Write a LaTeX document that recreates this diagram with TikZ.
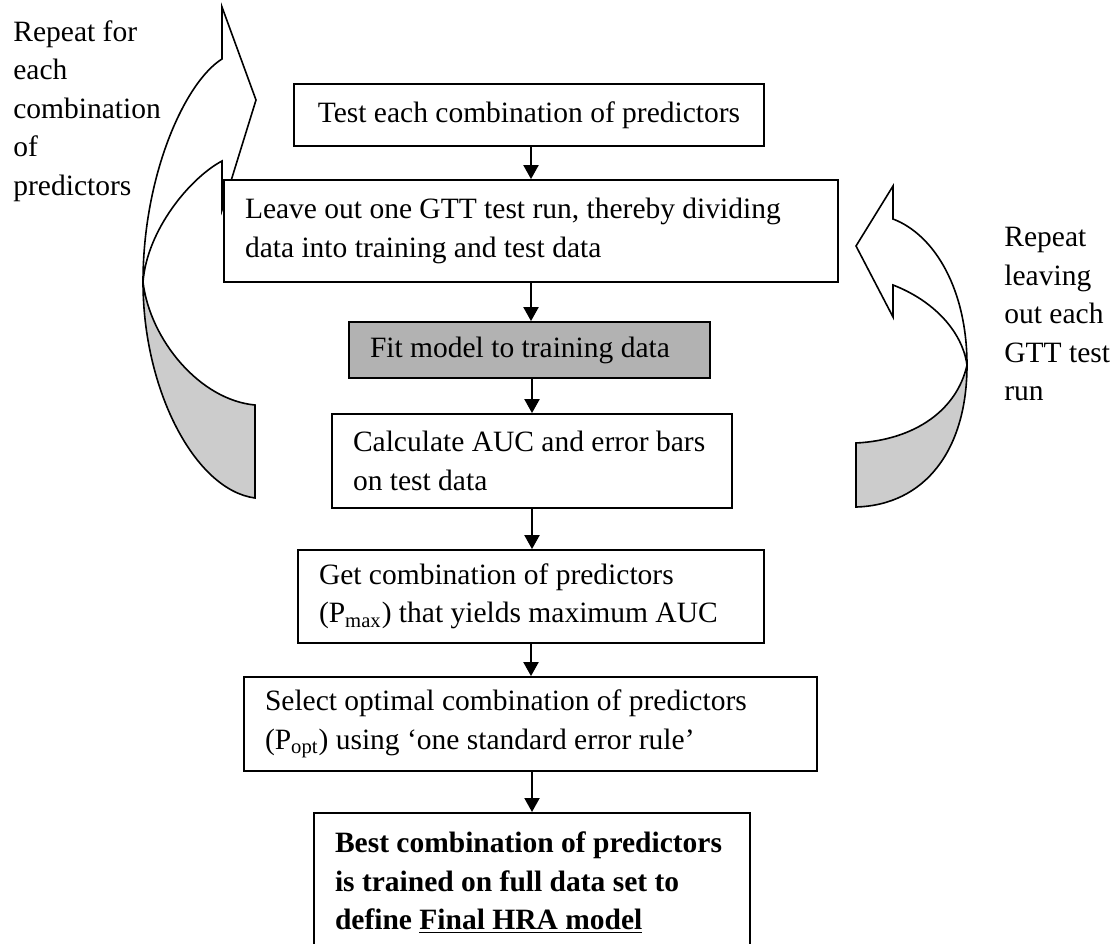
\documentclass[tikz,border=0pt]{standalone}
\usepackage{fontspec}
\setmainfont{Liberation Serif}
\usetikzlibrary{arrows.meta}

\begin{document}
\begin{tikzpicture}[x=0.5pt,y=-0.5pt,
    font=\fontsize{14.75pt}{19.25pt}\selectfont,
    box/.style={draw=black,line width=0.9pt,fill=white,inner xsep=10.5pt,inner ysep=0pt,align=flush left},
    note/.style={inner sep=0pt,align=flush left},
    flow/.style={line width=1pt,-{Triangle[length=7pt,width=7.5pt]}},
    curl/.style={draw=black,line width=0.8pt,line join=miter},
    under/.style={fill=black!20}]
  \useasboundingbox (0,0) rectangle (1117,943);

  % loop over the combinations (left)
  \fill[under] (143,282) .. controls (143,390) and (195,490) .. (255,498) -- (255,405)
    .. controls (200,400) and (150,340) .. (143,282) -- cycle;
  \draw[curl] (222,59) .. controls (185,82) and (143,175) .. (143,282)
    .. controls (143,390) and (195,490) .. (255,498) -- (255,405)
    .. controls (200,400) and (150,340) .. (143,282)
    .. controls (147,230) and (190,178) .. (222,161)
    -- (222,210) -- (256,100) -- (222,7) -- cycle;

  % loop over the left-out runs (right)
  \fill[under] (967,365) .. controls (967,450) and (925,505) .. (856,507) -- (856,443)
    .. controls (915,440) and (957,410) .. (967,365) -- cycle;
  \draw[curl] (893,219) .. controls (935,235) and (967,290) .. (967,365)
    .. controls (967,450) and (925,505) .. (856,507) -- (856,443)
    .. controls (915,440) and (957,410) .. (967,365)
    .. controls (962,330) and (932,300) .. (893,285)
    -- (893,317) -- (856,246) -- (893,186) -- cycle;

  \node[note,anchor=north west] (combos) at (13,20) {Repeat for\\each\\combination\\of\\predictors};
  \node[note,anchor=north west] (runs) at (1004,227) {Repeat\\leaving\\out each\\GTT test\\run};

  \node[box,minimum width=235pt,minimum height=31pt] (test) at (529,115) {Test each combination of predictors};
  \node[box,minimum width=307pt,text width=286pt,minimum height=51pt] (leave) at (531,231)
    {Leave out one GTT test run, thereby dividing\\data into training and test data};
  \node[box,fill=black!30,minimum width=180.5pt,text width=159.5pt,minimum height=28pt] (fit) at (529.5,350)
    {Fit model to training data};
  \node[box,minimum width=200pt,text width=179pt,minimum height=47pt] (auc) at (532,461)
    {Calculate AUC and error bars\\on test data};
  \node[box,minimum width=233pt,text width=212pt,minimum height=46.5pt] (pmax) at (531,596.5)
    {Get combination of predictors\\(P\textsubscript{max}) that yields maximum AUC};
  \node[box,minimum width=286.5pt,text width=265.5pt,minimum height=47pt] (popt) at (530.5,724)
    {Select optimal combination of predictors\\(P\textsubscript{opt}) using ‘one standard error rule’};
  \node[box,anchor=north,minimum width=218pt,text width=197pt,minimum height=70pt,font=\fontsize{14.75pt}{19.25pt}\selectfont\bfseries] (final) at (532,812)
    {Best combination of predictors\\is trained on full data set to\\define \underline{Final HRA model}};

  \draw[flow] (test.south -| leave.north) -- (leave.north);
  \draw[flow] (leave.south) -- (leave.south |- fit.north);
  \draw[flow] (fit.south -| auc.north) -- (auc.north);
  \draw[flow] (auc.south) -- (auc.south |- pmax.north);
  \draw[flow] (pmax.south) -- (pmax.south |- popt.north);
  \draw[flow] (popt.south -| final.north) -- (final.north);
\end{tikzpicture}
\end{document}
